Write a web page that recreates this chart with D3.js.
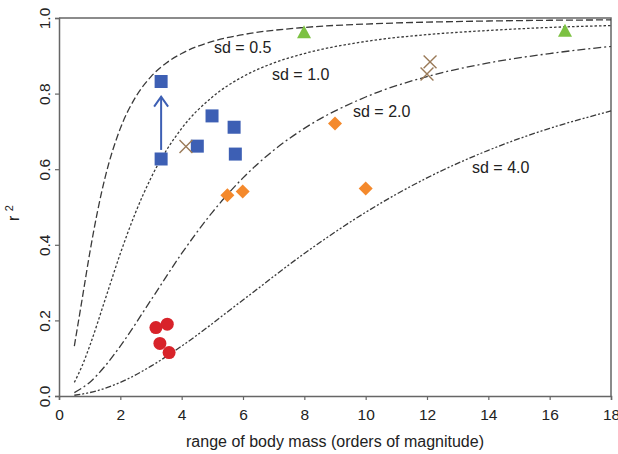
<!DOCTYPE html>
<html>
<head>
<meta charset="utf-8">
<script src="https://cdn.jsdelivr.net/npm/d3@7"></script>
<style>
  body { margin: 0; background: #fff; }
  text { font-family: "Liberation Sans", Arial, sans-serif; fill: #222; }
</style>
</head>
<body>
<div id="main"></div>
<script>
// curve values (x = range of body mass, y = r2)
var sd05X = [0.5, 0.75, 1, 1.25, 1.5, 2, 2.5, 3, 3.5, 4, 5, 6, 8, 10, 12, 14, 16, 18];
var sd05Y = [0.132, 0.254, 0.377, 0.486, 0.577, 0.708, 0.791, 0.845, 0.881, 0.906, 0.938, 0.956, 0.975, 0.984, 0.989, 0.992, 0.994, 0.995];
var sd1X = [0.5, 0.75, 1, 1.5, 2, 2.5, 3, 4, 5, 6, 7, 8, 10, 12, 14, 16, 18];
var sd1Y = [0.036, 0.079, 0.132, 0.254, 0.377, 0.486, 0.577, 0.708, 0.791, 0.845, 0.881, 0.906, 0.938, 0.956, 0.967, 0.975, 0.980];
var sd2X = [0.5, 1, 1.5, 2, 3, 4, 5, 6, 7, 8, 10, 12, 14, 16, 18];
var sd2Y = [0.009, 0.036, 0.079, 0.132, 0.254, 0.377, 0.486, 0.577, 0.650, 0.708, 0.791, 0.845, 0.881, 0.906, 0.925];
var sd4X = [0.5, 1, 2, 3, 4, 6, 8, 10, 12, 14, 16, 18];
var sd4Y = [0.002, 0.009, 0.036, 0.079, 0.132, 0.254, 0.377, 0.486, 0.577, 0.650, 0.708, 0.754];

// observed points
var squares = [[3.33, 0.832], [3.33, 0.627], [4.51, 0.661], [4.99, 0.741], [5.71, 0.711], [5.75, 0.640]];
var crosses = [[4.14, 0.660], [12.1, 0.884], [12.0, 0.852]];
var diamonds = [[5.49, 0.531], [5.99, 0.541], [9.0, 0.721], [10.0, 0.549]];
var triangles = [[7.99, 0.962], [16.5, 0.966]];
var circles = [[3.16, 0.181], [3.53, 0.190], [3.29, 0.139], [3.59, 0.115]];
var arrowFrom = [3.33, 0.651];
var arrowTo = [3.33, 0.792];

var xTicks = [0, 2, 4, 6, 8, 10, 12, 14, 16, 18];
var yTicks = [0, 0.2, 0.4, 0.6, 0.8, 1.0];

var curves = [
  {label: 'sd = 0.5', xs: sd05X, ys: sd05Y, dash: '7,3', lx: 214, ly: 53},
  {label: 'sd = 1.0', xs: sd1X, ys: sd1Y, dash: '2.5,2', lx: 272, ly: 80},
  {label: 'sd = 2.0', xs: sd2X, ys: sd2Y, dash: '8,3,2,3', lx: 353, ly: 117},
  {label: 'sd = 4.0', xs: sd4X, ys: sd4Y, dash: '6,2,2,2,2,2', lx: 472, ly: 173}
];

var width = 618;
var height = 454;

var svg = d3.select('#main')
  .append('svg')
  .attr('width', width)
  .attr('height', height);

var x = d3.scaleLinear().domain([0, 18]).range([59, 611]);
var y = d3.scaleLinear().domain([0, 1]).range([396, 18]);

// frame on top and right
svg.append('path')
  .attr('d', 'M' + x(0) + ',' + y(1) + 'H' + x(18) + 'V' + y(0))
  .attr('fill', 'none')
  .attr('stroke', '#666')
  .attr('stroke-width', 1.5);

var xAxis = svg.append('g')
  .attr('transform', 'translate(0,' + y(0) + ')')
  .call(d3.axisBottom(x).tickValues(xTicks).tickSize(4).tickPadding(9).tickFormat(d3.format('d')));

var yAxis = svg.append('g')
  .attr('transform', 'translate(' + x(0) + ',0)')
  .call(d3.axisLeft(y).tickValues(yTicks).tickSize(4).tickFormat(d3.format('.1f')));

[xAxis, yAxis].forEach(function(a) {
  a.select('.domain').attr('stroke', '#666').attr('stroke-width', 1.5);
  a.selectAll('.tick line').attr('stroke', '#666').attr('stroke-width', 1.2);
  a.selectAll('text').style('font-size', '15.5px').style('font-family', '"Liberation Sans", Arial, sans-serif').attr('fill', '#222');
});

yAxis.selectAll('text')
  .attr('transform', 'rotate(-90)')
  .attr('x', 0)
  .attr('y', -9)
  .attr('dy', 0)
  .style('text-anchor', 'middle');

// axis titles
svg.append('text')
  .attr('x', (x(0) + x(18)) / 2)
  .attr('y', 447)
  .attr('text-anchor', 'middle')
  .style('font-size', '16px')
  .text('range of body mass (orders of magnitude)');

var yTitle = svg.append('text')
  .attr('transform', 'translate(19,' + (y(0.5) + 6) + ') rotate(-90)')
  .attr('text-anchor', 'middle')
  .style('font-size', '16px');
yTitle.append('tspan').text('r ');
yTitle.append('tspan').attr('dy', -6).style('font-size', '11px').text('2');

// curves
var line = d3.line()
  .x(function(d) { return x(d[0]); })
  .y(function(d) { return y(d[1]); })
  .curve(d3.curveMonotoneX);

curves.forEach(function(c) {
  var pts = c.xs.map(function(v, i) { return [v, c.ys[i]]; });
  svg.append('path')
    .datum(pts)
    .attr('d', line)
    .attr('fill', 'none')
    .attr('stroke', '#3a3a3a')
    .attr('stroke-width', 1.3)
    .attr('stroke-dasharray', c.dash);
  svg.append('text')
    .attr('x', c.lx)
    .attr('y', c.ly)
    .style('font-size', '16px')
    .text(c.label);
});

// arrow
var blue = '#3d5fb4';
svg.append('line')
  .attr('x1', x(arrowFrom[0])).attr('y1', y(arrowFrom[1]))
  .attr('x2', x(arrowTo[0])).attr('y2', y(arrowTo[1]))
  .attr('stroke', blue)
  .attr('stroke-width', 2);
svg.append('path')
  .attr('d', 'M' + (x(arrowTo[0]) - 7) + ',' + (y(arrowTo[1]) + 10) +
    'L' + x(arrowTo[0]) + ',' + y(arrowTo[1]) +
    'L' + (x(arrowTo[0]) + 7) + ',' + (y(arrowTo[1]) + 10))
  .attr('fill', 'none')
  .attr('stroke', blue)
  .attr('stroke-width', 2);

// markers
svg.selectAll('.sq')
  .data(squares)
  .enter().append('rect')
  .attr('x', function(d) { return x(d[0]) - 6.5; })
  .attr('y', function(d) { return y(d[1]) - 6.5; })
  .attr('width', 13)
  .attr('height', 13)
  .attr('fill', blue);

svg.selectAll('.cr')
  .data(crosses)
  .enter().append('path')
  .attr('d', d3.symbol().type(d3.symbolX).size(110))
  .attr('transform', function(d) { return 'translate(' + x(d[0]) + ',' + y(d[1]) + ')'; })
  .attr('fill', 'none')
  .attr('stroke', '#9a7a58')
  .attr('stroke-width', 1.4);

svg.selectAll('.dm')
  .data(diamonds)
  .enter().append('path')
  .attr('d', 'M0,-7L7,0L0,7L-7,0Z')
  .attr('transform', function(d) { return 'translate(' + x(d[0]) + ',' + y(d[1]) + ')'; })
  .attr('fill', '#f4892c');

svg.selectAll('.tr')
  .data(triangles)
  .enter().append('path')
  .attr('d', 'M0,-7L7,6L-7,6Z')
  .attr('transform', function(d) { return 'translate(' + x(d[0]) + ',' + y(d[1]) + ')'; })
  .attr('fill', '#7cc142');

svg.selectAll('.ci')
  .data(circles)
  .enter().append('circle')
  .attr('cx', function(d) { return x(d[0]); })
  .attr('cy', function(d) { return y(d[1]); })
  .attr('r', 6.5)
  .attr('fill', '#d8232a');
</script>
</body>
</html>
